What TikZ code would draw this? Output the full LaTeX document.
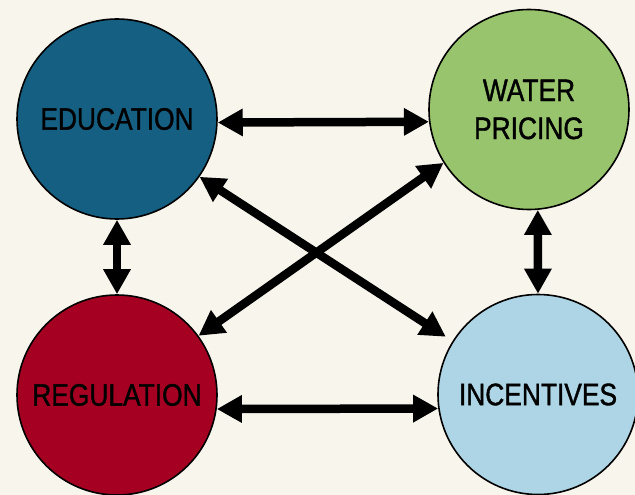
\documentclass[tikz,border=0pt]{standalone}
\usepackage{fontspec}
\setmainfont[FakeStretch=0.85,FakeBold=1.2]{Liberation Sans}
\usetikzlibrary{arrows.meta}
\definecolor{bg}{HTML}{F8F5EC}
\definecolor{edu}{HTML}{156082}
\definecolor{wat}{HTML}{97C46C}
\definecolor{reg}{HTML}{A50021}
\definecolor{inc}{HTML}{ADD5E5}
\tikzset{
 x=1pt,y=-1pt,
 blob/.style={circle,draw=black,line width=1.6pt,minimum size=200pt,inner sep=0pt,align=center,text=black,font=\fontsize{31}{38}\selectfont},
 link/.style={line width=8.5pt,{Triangle[length=25pt,width=26pt]}-{Triangle[length=25pt,width=26pt]},black}
}
\begin{document}
\begin{tikzpicture}
\path[use as bounding box,fill=bg] (0,0) rectangle (635,495);
\node[blob,fill=edu] (e) at (117,119) {EDUCATION};
\node[blob,fill=wat] (w) at (529,109.5) {WATER\\PRICING};
\node[blob,fill=reg] (r) at (117,395) {REGULATION};
\node[blob,fill=inc] (i) at (538,394.5) {INCENTIVES};
\draw[link] (e.-2.3) -- (w.187.7);
\draw[link] (r.-8) -- (i.188.4);
\draw[link] (e.south) -- (r.north);
\draw[link] (w.-85) -- (i.90);
\draw[link,shorten >=8pt] (e.-35) -- (i.148);
\draw[link] (w.212) -- (r.36.8);
\end{tikzpicture}
\end{document}
